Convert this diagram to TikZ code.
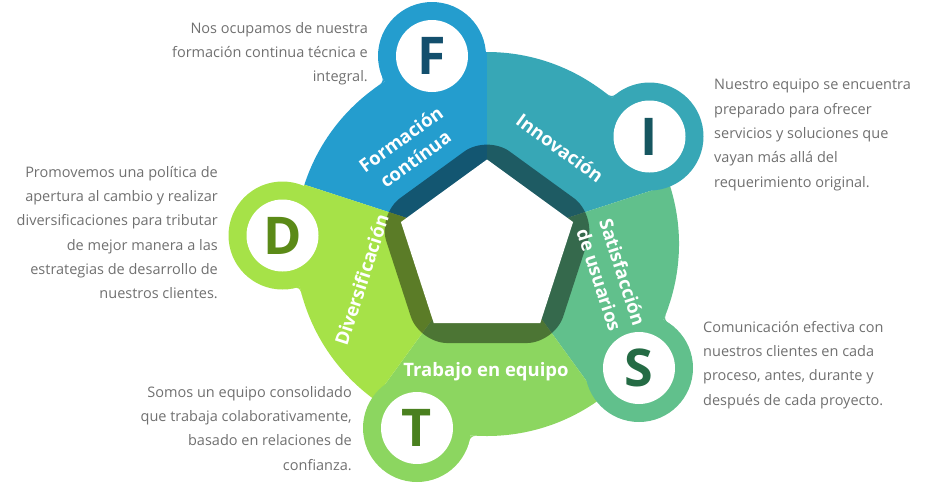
\documentclass[tikz,border=0pt]{standalone}
\usepackage{fontspec}
\setmainfont{Open Sans}
\usepackage{tikz}
\usetikzlibrary{calc}

\definecolor{fBlue}{HTML}{249DCE}
\definecolor{iTeal}{HTML}{37A7B6}
\definecolor{sGreen}{HTML}{61C08C}
\definecolor{tGreen}{HTML}{8CD660}
\definecolor{dGreen}{HTML}{A6E248}
\definecolor{fDark}{HTML}{134F6D}
\definecolor{iDark}{HTML}{165660}
\definecolor{sDark}{HTML}{246B44}
\definecolor{tDark}{HTML}{4A801F}
\definecolor{dDark}{HTML}{5B8A17}
\definecolor{txtGray}{HTML}{707070}

\tikzset{
  lobe/.style={circle, minimum size=108pt, inner sep=0pt},
  hole/.style={circle, fill=white, minimum size=72pt, inner sep=0pt,
    font=\fontsize{52}{52}\selectfont\bfseries},
  sectxt/.style={text=white, align=center, inner sep=0pt,
    font=\fontsize{18.5}{24.5}\selectfont\bfseries},
  infoL/.style={text=txtGray, align=left, inner sep=0pt,
    font=\fontsize{14.5}{24.3}\selectfont},
  infoR/.style={infoL, align=right}
}

\begin{document}
\begin{tikzpicture}[x=1pt, y=1pt]
            \useasboundingbox (0,0) rectangle (931,-491);

            % Centres of the rim and of the pentagon
            \coordinate (C) at (487,-244);
            \coordinate (P) at (487,-250);

            % Sectors
            \fill[fBlue] (C) -- ($(C)+(90:192)$) arc[start angle=90, end angle=162, radius=192] -- cycle;
            \fill[iTeal] (C) -- ($(C)+(18:192)$) arc[start angle=18, end angle=90, radius=192] -- cycle;
            \fill[sGreen] (C) -- ($(C)+(-54:192)$) arc[start angle=-54, end angle=18, radius=192] -- cycle;
            \fill[tGreen] (C) -- ($(C)+(-126:192)$) arc[start angle=-126, end angle=-54, radius=192] -- cycle;
            \fill[dGreen] (C) -- ($(C)+(162:192)$) arc[start angle=162, end angle=234, radius=192] -- cycle;

            % Lobes
            \node[lobe, fill=fBlue] (lobeF) at (432,-56) {};
            \node[lobe, fill=iTeal] (lobeI) at (649.5,-136.5) {};
            \node[lobe, fill=sGreen] (lobeS) at (639,-368) {};
            \node[lobe, fill=tGreen] (lobeT) at (417,-428) {};
            \node[lobe, fill=dGreen] (lobeD) at (282.5,-235.5) {};

            % Fillets between lobe and rim
            \coordinate (jF) at ($(C)+(122.3:192)$);
            \coordinate (jI) at ($(C)+(49.5:192)$);
            \coordinate (jS) at ($(C)+(-23.3:192)$);
            \coordinate (jT) at ($(C)+(-94.9:192)$);
            \coordinate (jD) at ($(C)+(192.8:192)$);
            \fill[fBlue] (jF) -- ($(lobeF)+(194.4:54)$) .. controls (jF) .. ($(C)+(126.3:192)$) -- cycle;
            \fill[iTeal] (jI) -- ($(lobeI)+(120.5:54)$) .. controls (jI) .. ($(C)+(53.5:192)$) -- cycle;
            \fill[sGreen] (jS) -- ($(lobeS)+(49.2:54)$) .. controls (jS) .. ($(C)+(-19.3:192)$) -- cycle;
            \fill[tGreen] (jT) -- ($(lobeT)+(-21.8:54)$) .. controls (jT) .. ($(C)+(-90.9:192)$) -- cycle;
            \fill[dGreen] (jD) -- ($(lobeD)+(274.7:54)$) .. controls (jD) .. ($(C)+(196.8:192)$) -- cycle;

            % Dark band and white pentagon
            \fill[black, fill opacity=.45, rounded corners=28pt] ($(P)+(54:93)$) -- ($(P)+(18:115)$) -- ($(P)+(-54:115)$)
                -- ($(P)+(-126:115)$) -- ($(P)+(162:115)$) -- ($(P)+(90:115)$) -- cycle;
            \fill[white] ($(P)+(90:90.5)$) -- ($(P)+(162:90.5)$) -- ($(P)+(234:90.5)$) -- ($(P)+(306:90.5)$) -- ($(P)+(18:90.5)$) -- cycle;

            % Letters
            \node[hole, text=fDark] (F) at (lobeF) {F};
            \node[hole, text=iDark] (I) at (lobeI) {I};
            \node[hole, text=sDark] (S) at (lobeS) {S};
            \node[hole, text=tDark] (T) at (lobeT) {T};
            \node[hole, text=dDark] (D) at (lobeD) {D};

            % Sector titles
            \node[sectxt, rotate=36] (tF) at (408,-149) {Formación\\contínua};
            \node[sectxt, rotate=-36] (tI) at (560,-148) {Innovación};
            \node[sectxt, rotate=-72] (tS) at (611,-276) {Satisfacción\\de usuarios};
            \node[sectxt] (tT) at (486,-372) {Trabajo en equipo};
            \node[sectxt, rotate=72] (tD) at (361.5,-280) {Diversificación};

            % Descriptions
            \node[infoR, anchor=north east] (dF) at (368,-22) {Nos ocupamos de nuestra\\formación continua técnica e\\integral.};
            \node[infoL, anchor=north west] (dI) at (714,-79) {Nuestro equipo se encuentra\\preparado para ofrecer\\servicios y soluciones que\\vayan más allá del\\requerimiento original.};
            \node[infoR, anchor=north east] (dD) at (218,-166) {Promovemos una política de\\apertura al cambio y realizar\\diversificaciones para tributar\\de mejor manera a las\\estrategias de desarrollo de\\nuestros clientes.};
            \node[infoL, anchor=north west] (dS) at (703,-321) {Comunicación efectiva con\\nuestros clientes en cada\\proceso, antes, durante y\\después de cada proyecto.};
            \node[infoR, anchor=north east] (dT) at (352,-386) {Somos un equipo consolidado\\que trabaja colaborativamente,\\basado en relaciones de\\confianza.};
        \end{tikzpicture}
\end{document}
